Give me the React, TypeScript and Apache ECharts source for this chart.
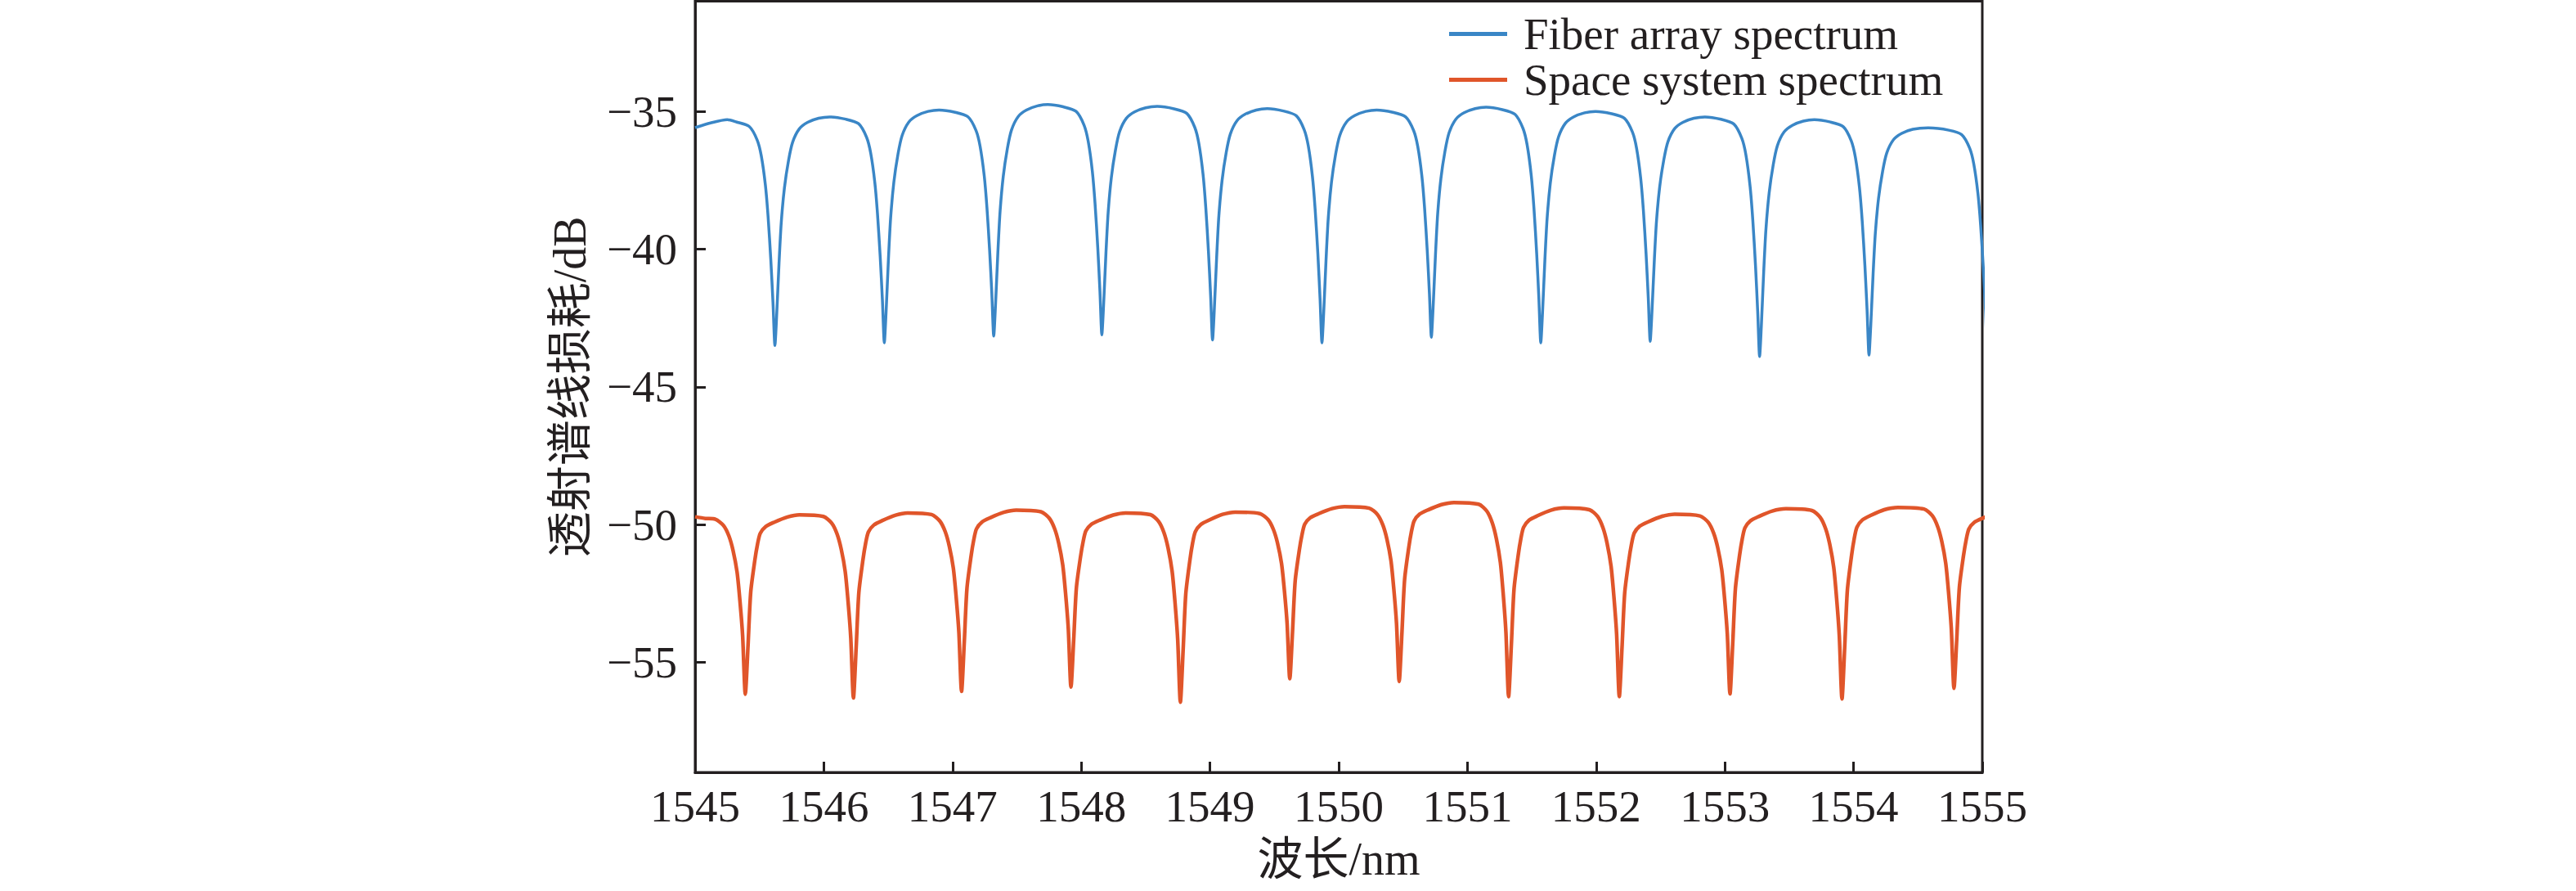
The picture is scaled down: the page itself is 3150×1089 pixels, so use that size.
import { useEffect, useRef } from 'react';
import * as echarts from 'echarts';

const INK = '#231f20';
const FONT = '"Liberation Serif", "Noto Sans CJK SC", serif';
const BLUE = '#3a86c6';
const ORANGE = '#e0552a';

const SERIES_NAMES = ['Fiber array spectrum', 'Space system spectrum'];
const X_RANGE = [1545, 1555];
const Y_RANGE = [-59, -31];

// Fiber array: notch centres (nm), notch minima and the hump level before each notch (dB)
const BLUE_HEAD = [[1545.0, -35.59], [1545.12, -35.42], [1545.25, -35.3]];
const BLUE_DIPS = [1545.62, 1546.47, 1547.32, 1548.16, 1549.02, 1549.87, 1550.72, 1551.57, 1552.42, 1553.27, 1554.12, 1555.04];
const BLUE_MINS = [-43.5, -43.4, -43.16, -43.11, -43.3, -43.4, -43.2, -43.4, -43.35, -43.9, -43.85, -43.8];
const BLUE_TOPS = [-35.3, -35.2, -34.95, -34.75, -34.82, -34.9, -34.95, -34.85, -35.0, -35.2, -35.3, -35.6];
const BLUE_SHAPE = [
  [-0.3, 0.01], [-0.2, 0.03], [-0.138, 0.09], [-0.106, 0.16], [-0.074, 0.29], [-0.053, 0.43],
  [-0.032, 0.62], [-0.015, 0.81], [0, 1], [0.013, 0.876], [0.032, 0.64], [0.049, 0.464],
  [0.074, 0.31], [0.106, 0.19], [0.138, 0.11], [0.19, 0.052], [0.254, 0.024], [0.34, 0.006],
];

// Space system
const ORANGE_HEAD = [[1545.0, -49.72], [1545.08, -49.78]];
const ORANGE_DIPS = [1545.39, 1546.23, 1547.07, 1547.92, 1548.77, 1549.62, 1550.47, 1551.32, 1552.18, 1553.04, 1553.91, 1554.78];
const ORANGE_MINS = [-56.16, -56.3, -56.06, -55.9, -56.45, -55.6, -55.7, -56.25, -56.25, -56.15, -56.33, -55.95];
const ORANGE_TOPS = [-49.75, -49.65, -49.58, -49.48, -49.58, -49.55, -49.35, -49.2, -49.4, -49.63, -49.43, -49.38, -49.5];
const ORANGE_SHAPE = [
  [-0.233, 0.009], [-0.169, 0.045], [-0.127, 0.105], [-0.095, 0.187], [-0.064, 0.309], [-0.042, 0.47],
  [-0.021, 0.667], [0, 1], [0.021, 0.731], [0.042, 0.431], [0.074, 0.253], [0.095, 0.163],
  [0.116, 0.103], [0.159, 0.065], [0.222, 0.042], [0.328, 0.012],
];

const buildSpectrum = (
  head: number[][],
  dips: number[],
  mins: number[],
  tops: number[],
  shape: number[][],
) => {
  const pts: number[][] = head.map((p) => [...p]);
  dips.forEach((c, i) => {
    if (i > 0) pts.push([+((dips[i - 1] + c) / 2).toFixed(3), tops[i]]);
    shape.forEach(([dx, f]) => {
      const h = dx <= 0 ? tops[i] : tops[i + 1] ?? tops[i];
      pts.push([+(c + dx).toFixed(3), +(h - f * (h - mins[i])).toFixed(3)]);
    });
  });
  return pts;
};

const fmtLoss = (v: number) => (Math.round(v) % 5 === 0 ? '\u2212' + Math.abs(v) : '');

export default function App() {
  const chartRef = useRef<HTMLDivElement>(null);

  useEffect(() => {
    if (!chartRef.current) return;
    const chart = echarts.init(chartRef.current, undefined, { renderer: 'svg' });
    const blue = buildSpectrum(BLUE_HEAD, BLUE_DIPS, BLUE_MINS, BLUE_TOPS, BLUE_SHAPE);
    const orange = buildSpectrum(ORANGE_HEAD, ORANGE_DIPS, ORANGE_MINS, ORANGE_TOPS, ORANGE_SHAPE);

    chart.setOption({
      animation: false,
      textStyle: { fontFamily: FONT },
      grid: {
        left: 850,
        top: 1.5,
        width: 1574,
        height: 942.5,
        show: true,
        borderWidth: 3,
        borderColor: INK,
        backgroundColor: 'transparent',
      },
      legend: {
        orient: 'vertical',
        left: 1772,
        top: 14,
        padding: 0,
        itemGap: 1,
        itemWidth: 71,
        itemHeight: 5,
        icon: 'rect',
        textStyle: { fontSize: 55, color: INK, fontFamily: FONT, padding: [0, 0, 0, 15] },
        data: SERIES_NAMES,
      },
      xAxis: {
        type: 'value',
        min: X_RANGE[0],
        max: X_RANGE[1],
        interval: 1,
        name: '波长/nm',
        nameLocation: 'middle',
        nameGap: 78,
        nameTextStyle: { fontSize: 56, color: INK, fontFamily: FONT },
        axisLine: { show: true, lineStyle: { color: INK, width: 3 } },
        axisTick: { inside: true, length: 13, lineStyle: { color: INK, width: 3 } },
        axisLabel: {
          fontSize: 55,
          color: INK,
          fontFamily: FONT,
          margin: 14,
          formatter: (v: number) => String(v),
        },
        splitLine: { show: false },
      },
      yAxis: {
        type: 'value',
        min: Y_RANGE[0],
        max: Y_RANGE[1],
        splitNumber: 5,
        name: '透射谱线损耗/dB',
        nameLocation: 'middle',
        nameRotate: 90,
        nameGap: 125,
        nameTextStyle: { fontSize: 56, color: INK, fontFamily: FONT },
        axisLine: { show: true, lineStyle: { color: INK, width: 3 } },
        axisTick: { inside: true, length: 13, lineStyle: { color: INK, width: 3 } },
        axisLabel: {
          fontSize: 55,
          color: INK,
          fontFamily: FONT,
          margin: 22,
          showMinLabel: false,
          showMaxLabel: false,
          formatter: fmtLoss,
        },
        splitLine: { show: false },
      },
      series: [
        {
          name: SERIES_NAMES[0],
          type: 'line',
          data: blue,
          showSymbol: false,
          symbol: 'none',
          smooth: 0.25,
          color: BLUE,
          lineStyle: { color: BLUE, width: 3.5 },
          z: 3,
        },
        {
          name: SERIES_NAMES[1],
          type: 'line',
          data: orange,
          showSymbol: false,
          symbol: 'none',
          smooth: 0.25,
          color: ORANGE,
          lineStyle: { color: ORANGE, width: 4.5 },
          z: 2,
        },
      ],
    });

    return () => {
      chart.dispose();
    };
  }, []);

  return (
    <div
      ref={chartRef}
      style={{ position: 'absolute', left: 0, top: 0, width: 3150, height: 1089 }}
    />
  );
}
